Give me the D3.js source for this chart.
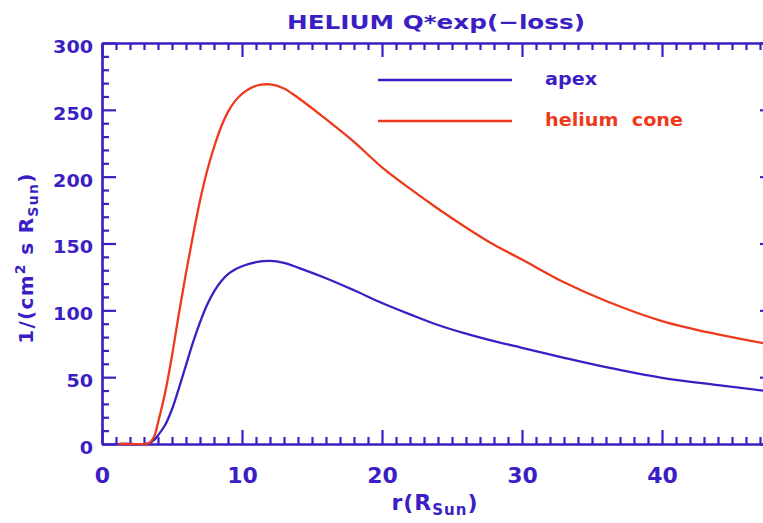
<!DOCTYPE html>
<html>
<head>
<meta charset="utf-8">
<script src="https://cdn.jsdelivr.net/npm/d3@7"></script>
<style>
  html, body { margin: 0; padding: 0; background: #ffffff; }
  svg { display: block; }
  text { font-family: "DejaVu Sans", sans-serif; font-weight: bold; }
</style>
</head>
<body>
<div id="chart"></div>
<script>
// Heliocentric distance r (in solar radii)
const radius = [1.2, 2, 3.1, 3.4, 3.7, 4, 4.5, 5, 5.5, 6, 6.5, 7, 7.5, 8, 8.5, 9, 9.5, 10, 11, 12, 13, 14, 16, 18, 20, 22, 24, 26, 28, 30, 33, 36, 40, 44, 48];
// Q*exp(-loss) along the apex direction
const apexValues = [0, 0, 0, 0.8, 2.8, 6.5, 14, 26, 42, 59, 76, 91, 104, 114, 121.5, 127, 130.5, 133, 136, 137, 135.5, 132, 124, 115, 105.5, 97, 89, 82.5, 77, 72, 64.5, 57.5, 49.5, 44, 39];
// Q*exp(-loss) through the helium focusing cone
const coneValues = [0, 0, 0, 1, 5, 16, 38, 66, 98, 128, 156, 182, 204, 222, 237, 248.5, 256.5, 262, 268, 269, 266, 259, 243, 226, 207, 191, 176, 162, 149, 138, 121, 107, 92, 82, 74];

const seriesNames = ["apex", "helium cone"];
const xTicks = [0, 10, 20, 30, 40];
const yTicks = [0, 50, 100, 150, 200, 250, 300];

const W = 763, H = 523;
const BLUE = "#3b1fc4";
const RED = "#ee3a1c";

const svg = d3.select("#chart").append("svg")
  .attr("width", W).attr("height", H);

const x = d3.scaleLinear().domain([0, 48]).range([102, 774]);
const y = d3.scaleLinear().domain([0, 300]).range([444, 43]);

const plotLeft = x.range()[0], plotRight = x.range()[1];
const plotBottom = y.range()[0], plotTop = y.range()[1];

const minorX = d3.range(0, 49, 1).filter(v => v % 10 !== 0);
const minorY = d3.range(0, 301, 10).filter(v => v % 50 !== 0);

function styleAxis(g) {
  g.selectAll("path.domain").attr("stroke", BLUE).attr("stroke-width", 2.2);
  g.selectAll(".tick line").attr("stroke", BLUE).attr("stroke-width", 2.2);
}

// bottom axis: major ticks with labels, pointing inward
const gBottom = svg.append("g").attr("transform", `translate(0,${plotBottom})`)
  .call(d3.axisBottom(x).tickValues(xTicks).tickSizeInner(-14).tickSizeOuter(0).tickFormat(d3.format("d")));
styleAxis(gBottom);
gBottom.selectAll(".tick text")
  .attr("fill", BLUE).attr("font-size", 22).attr("font-family", "DejaVu Sans").attr("font-weight", "bold")
  .attr("dy", "0.35em").attr("y", 31);
svg.append("g").attr("transform", `translate(0,${plotBottom})`)
  .call(d3.axisBottom(x).tickValues(minorX).tickSizeInner(-7).tickSizeOuter(0).tickFormat(""))
  .call(styleAxis);

// top axis
svg.append("g").attr("transform", `translate(0,${plotTop})`)
  .call(d3.axisTop(x).tickValues(xTicks).tickSizeInner(-14).tickSizeOuter(0).tickFormat(""))
  .call(styleAxis);
svg.append("g").attr("transform", `translate(0,${plotTop})`)
  .call(d3.axisTop(x).tickValues(minorX).tickSizeInner(-7).tickSizeOuter(0).tickFormat(""))
  .call(styleAxis);

// left axis with labels
const gLeft = svg.append("g").attr("transform", `translate(${plotLeft},0)`)
  .call(d3.axisLeft(y).tickValues(yTicks).tickSizeInner(-14).tickSizeOuter(0).tickFormat(d3.format("d")));
styleAxis(gLeft);
gLeft.selectAll(".tick text")
  .attr("fill", BLUE).attr("font-size", 17).attr("font-family", "DejaVu Sans").attr("font-weight", "bold")
  .attr("x", -9).attr("dy", "0.55em")
  .attr("text-anchor", "end")
  .attr("textLength", d => String(d).length * 13.3)
  .attr("lengthAdjust", "spacingAndGlyphs");
svg.append("g").attr("transform", `translate(${plotLeft},0)`)
  .call(d3.axisLeft(y).tickValues(minorY).tickSizeInner(-7).tickSizeOuter(0).tickFormat(""))
  .call(styleAxis);

// right axis
svg.append("g").attr("transform", `translate(${plotRight},0)`)
  .call(d3.axisRight(y).tickValues(yTicks).tickSizeInner(-14).tickSizeOuter(0).tickFormat(""))
  .call(styleAxis);
svg.append("g").attr("transform", `translate(${plotRight},0)`)
  .call(d3.axisRight(y).tickValues(minorY).tickSizeInner(-7).tickSizeOuter(0).tickFormat(""))
  .call(styleAxis);

// title
svg.append("text")
  .attr("x", 287).attr("y", 29)
  .attr("fill", BLUE).attr("font-size", 20)
  .attr("textLength", 298).attr("lengthAdjust", "spacingAndGlyphs")
  .text("HELIUM Q*exp(\u2212loss)");

// x axis title: r(R_Sun)
const xt = svg.append("text")
  .attr("x", 435).attr("y", 510)
  .attr("text-anchor", "middle")
  .attr("fill", BLUE).attr("font-size", 22)
  .attr("letter-spacing", 1);
xt.append("tspan").text("r(R");
xt.append("tspan").attr("font-size", 15).attr("dy", 5).text("Sun");
xt.append("tspan").attr("dy", -5).text(")");

// y axis title: 1/(cm^2 s R_Sun)
const yt = svg.append("text")
  .attr("transform", "translate(33,258) rotate(-90)")
  .attr("text-anchor", "middle")
  .attr("fill", BLUE).attr("font-size", 20)
  .attr("letter-spacing", 1.3);
yt.append("tspan").text("1/(cm");
yt.append("tspan").attr("font-size", 14).attr("dy", -8).text("2");
yt.append("tspan").attr("dy", 8).text(" s R");
yt.append("tspan").attr("font-size", 14).attr("dy", 5).text("Sun");
yt.append("tspan").attr("dy", -5).text(")");

// curves
const line = d3.line()
  .x(d => x(d[0]))
  .y(d => y(Math.max(0, d[1])))
  .curve(d3.curveCatmullRom.alpha(0.5));

const seriesData = [
  { name: seriesNames[0], color: BLUE, values: radius.map((r, i) => [r, apexValues[i]]) },
  { name: seriesNames[1], color: RED, values: radius.map((r, i) => [r, coneValues[i]]) }
];

svg.append("defs").append("clipPath").attr("id", "plot-clip")
  .append("rect").attr("x", plotLeft).attr("y", plotTop)
  .attr("width", plotRight - plotLeft).attr("height", plotBottom - plotTop + 2);

svg.append("g").attr("clip-path", "url(#plot-clip)")
  .selectAll("path.series")
  .data(seriesData)
  .join("path")
  .attr("class", "series")
  .attr("fill", "none")
  .attr("stroke", d => d.color)
  .attr("stroke-width", 2.3)
  .attr("d", d => line(d.values));

// legend
const legendRows = svg.append("g").selectAll("g")
  .data(seriesData)
  .join("g")
  .attr("transform", (d, i) => `translate(0,${80 + i * 41})`);
legendRows.append("line")
  .attr("x1", 378).attr("x2", 512).attr("y1", 0).attr("y2", 0)
  .attr("stroke", d => d.color).attr("stroke-width", 2.3);
legendRows.append("text")
  .attr("x", 545).attr("y", 5)
  .attr("fill", d => d.color).attr("font-size", 17)
  .attr("textLength", d => d.name === "apex" ? 52 : 138)
  .attr("lengthAdjust", "spacingAndGlyphs")
  .text(d => d.name === "helium cone" ? "helium\u00a0\u00a0cone" : d.name);
</script>
</body>
</html>
